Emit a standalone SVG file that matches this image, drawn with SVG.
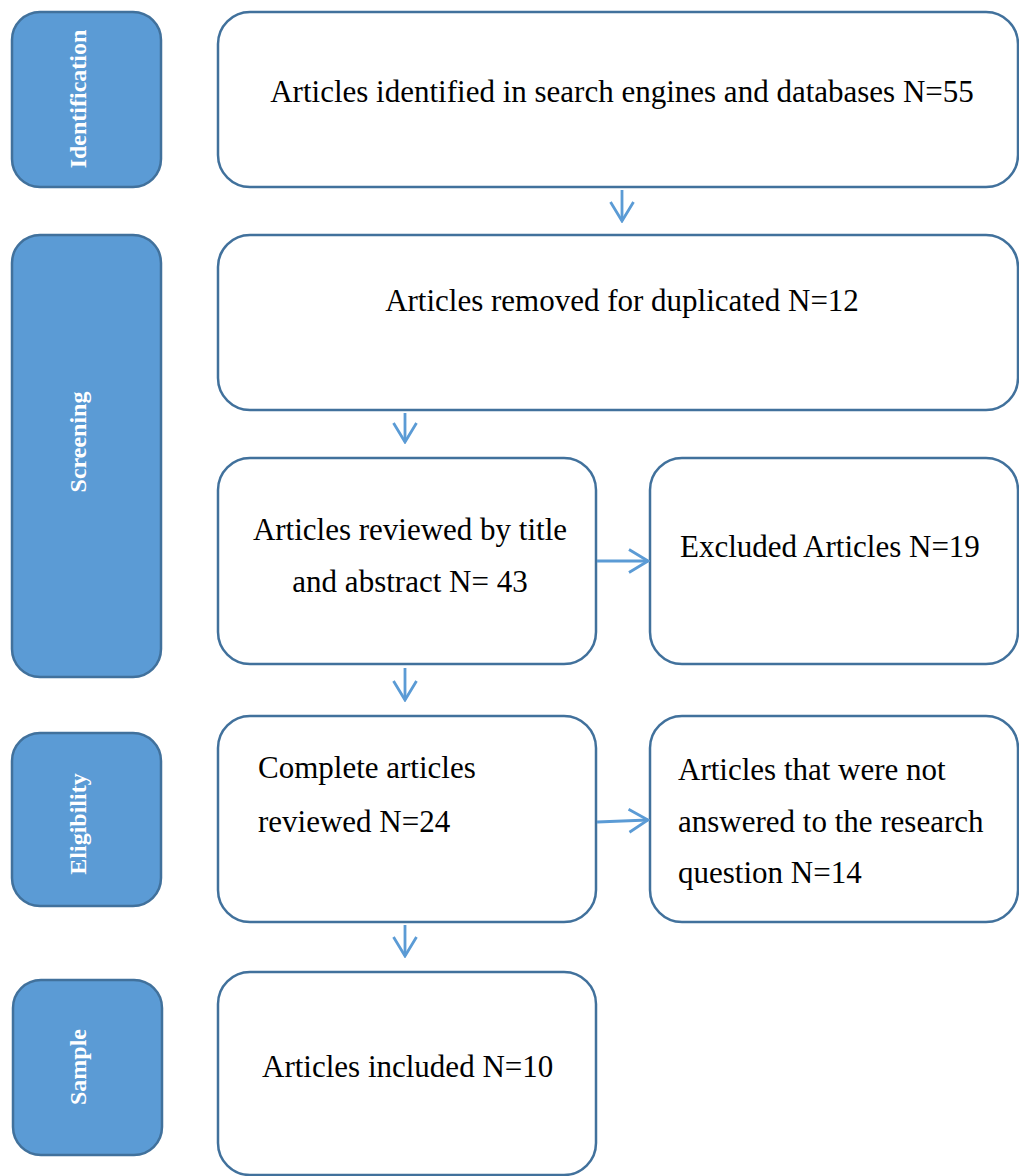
<svg xmlns="http://www.w3.org/2000/svg" width="1019" height="1176" viewBox="0 0 1019 1176">
<defs>
<style>
.side{fill:#5B9BD5;stroke:#41719C;stroke-width:2.5}
.box{fill:#fff;stroke:#41719C;stroke-width:2.5}
.lbl{font-family:'Liberation Serif','Times New Roman',Times,serif;font-weight:bold;font-size:24px;fill:#fff;text-anchor:middle}
.t{font-family:'Liberation Serif','Times New Roman',Times,serif;font-size:31px;fill:#000}
.c{text-anchor:middle}
.conn{stroke:#5B9BD5;stroke-width:2.8;fill:none}
</style>
<marker id="ah" viewBox="0 0 24 26" refX="22" refY="13" markerWidth="24" markerHeight="26" markerUnits="userSpaceOnUse" orient="auto">
<path d="M3,1.5 L22,13 L3,24.5" fill="none" stroke="#5B9BD5" stroke-width="2.8"/>
</marker>
</defs>
<rect width="1019" height="1176" fill="#fff"/>
<g id="stage-identification"><rect class="side" x="12" y="12" width="149" height="175" rx="28"/><text class="lbl" transform="translate(86,99) rotate(-90)">Identification</text></g>
<g id="stage-screening"><rect class="side" x="12" y="235" width="149" height="442" rx="28"/><text class="lbl" transform="translate(86,442) rotate(-90)">Screening</text></g>
<g id="stage-eligibility"><rect class="side" x="12" y="733" width="149" height="173" rx="28"/><text class="lbl" transform="translate(86,824) rotate(-90)">Eligibility</text></g>
<g id="stage-sample"><rect class="side" x="13" y="980" width="149" height="175" rx="28"/><text class="lbl" transform="translate(86,1067) rotate(-90)">Sample</text></g>
<g id="n1"><rect class="box" x="218" y="12" width="800" height="175" rx="32"/><text class="t c" x="622" y="102">Articles identified in search engines and databases N=55</text></g>
<g id="n2"><rect class="box" x="218" y="235" width="800" height="175" rx="32"/><text class="t c" x="622" y="311">Articles removed for duplicated N=12</text></g>
<g id="n3"><rect class="box" x="218" y="458" width="378" height="206" rx="32"/><text class="t c" x="410" y="540">Articles reviewed by title</text><text class="t c" x="410" y="592">and abstract N= 43</text></g>
<g id="n4"><rect class="box" x="650" y="458" width="368" height="206" rx="32"/><text class="t" x="680" y="557">Excluded Articles N=19</text></g>
<g id="n5"><rect class="box" x="218" y="716" width="378" height="206" rx="32"/><text class="t" x="258" y="778">Complete articles</text><text class="t" x="258" y="832">reviewed N=24</text></g>
<g id="n6"><rect class="box" x="650" y="716" width="368" height="206" rx="32"/><text class="t" x="678" y="780">Articles that were not</text><text class="t" x="678" y="832">answered to the research</text><text class="t" x="678" y="883">question N=14</text></g>
<g id="n7"><rect class="box" x="218" y="972" width="378" height="203" rx="32"/><text class="t" x="262" y="1077">Articles included N=10</text></g>
<g id="connectors">
<line class="conn" x1="622" y1="190" x2="622" y2="221" marker-end="url(#ah)"/>
<line class="conn" x1="405" y1="413" x2="405" y2="442" marker-end="url(#ah)"/>
<line class="conn" x1="405" y1="668" x2="405" y2="700" marker-end="url(#ah)"/>
<line class="conn" x1="405" y1="925" x2="405" y2="956" marker-end="url(#ah)"/>
<line class="conn" x1="597" y1="561" x2="648" y2="561" marker-end="url(#ah)"/>
<line class="conn" x1="597" y1="822" x2="648" y2="820" marker-end="url(#ah)"/>
</g>
</svg>
